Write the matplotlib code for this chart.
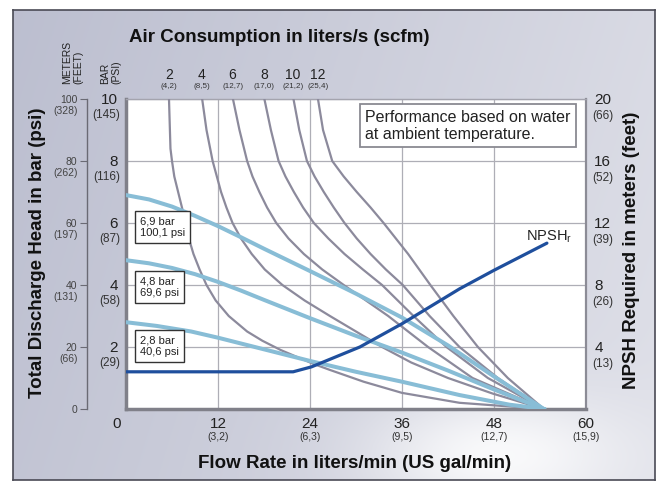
import numpy as np
import matplotlib.pyplot as plt
from matplotlib import transforms

plt.rcParams['font.family'] = ['Liberation Sans', 'DejaVu Sans']

# flow rate in liters/min, head in bar
flow_ticks = [0, 12, 24, 36, 48, 60]
flow_gpm = ["", "(3,2)", "(6,3)", "(9,5)", "(12,7)", "(15,9)"]
bar_ticks = [2, 4, 6, 8, 10]
bar_psi = ["(29)", "(58)", "(87)", "(116)", "(145)"]
meter_ticks = [0, 20, 40, 60, 80, 100]
meter_feet = ["", "(66)", "(131)", "(197)", "(262)", "(328)"]
npsh_ticks = [4, 8, 12, 16, 20]
npsh_feet = ["(13)", "(26)", "(39)", "(52)", "(66)"]

# air consumption curves (liters/s): flow / head points
air_labels = ["2", "4", "6", "8", "10", "12"]
air_scfm = ["(4,2)", "(8,5)", "(12,7)", "(17,0)", "(21,2)", "(25,4)"]
air2_flow = [5.6, 5.8, 6.0, 6.3, 6.8, 7.3, 7.8, 8.2, 8.8, 9.6, 10.5, 11.7, 13.4, 15.8, 17.8,
             20.2, 22.3, 24.5, 26.6, 31.0, 36.0, 43.5, 54.5]
air2_head = [10.06, 8.4, 8.0, 7.5, 7.0, 6.5, 6.0, 5.5, 5.0, 4.5, 4.0, 3.5, 3.0, 2.5, 2.2,
             1.9, 1.68, 1.45, 1.26, 0.88, 0.52, 0.2, 0.0]
air4_flow = [9.9, 10.5, 11.3, 12.4, 13.1, 13.9, 15.0, 16.4, 18.1, 20.4, 23.3, 26.6, 30.0,
             33.4, 37.2, 42.0, 47.8, 54.5]
air4_head = [10.06, 9.0, 8.0, 7.0, 6.5, 6.0, 5.5, 5.0, 4.5, 4.0, 3.5, 3.0, 2.5,
             2.0, 1.5, 1.0, 0.5, 0.0]
air6_flow = [13.9, 14.8, 15.8, 16.5, 17.4, 18.4, 19.6, 21.2, 23.2, 25.6, 28.4, 31.3, 34.2,
             39.4, 45.2, 54.5]
air6_head = [10.06, 9.0, 8.0, 7.5, 7.0, 6.5, 6.0, 5.5, 5.0, 4.5, 4.0, 3.5, 3.0,
             2.0, 1.0, 0.0]
air8_flow = [18.0, 18.9, 19.9, 20.8, 21.9, 23.1, 24.5, 26.4, 28.5, 30.9, 33.4, 37.5, 41.8,
             47.2, 54.5]
air8_head = [10.06, 9.0, 8.0, 7.5, 7.0, 6.5, 6.0, 5.5, 5.0, 4.5, 4.0, 3.0, 2.0,
             1.0, 0.0]
air10_flow = [21.8, 22.6, 23.6, 24.6, 25.8, 27.1, 28.5, 30.1, 31.9, 33.9, 36.1, 39.6, 43.5,
              48.5, 54.5]
air10_head = [10.06, 9.0, 8.0, 7.5, 7.0, 6.5, 6.0, 5.5, 5.0, 4.5, 4.0, 3.0, 2.0,
              1.0, 0.0]
air12_flow = [25.0, 25.7, 26.9, 28.4, 30.1, 31.9, 33.6, 35.2, 36.8, 39.7, 42.7, 45.9, 49.8, 54.5]
air12_head = [10.06, 9.0, 8.0, 7.5, 7.0, 6.5, 6.0, 5.5, 5.0, 4.0, 3.0, 2.0, 1.0, 0.0]

# discharge pressure lines
p_labels = ["6,9 bar\n100,1 psi", "4,8 bar\n69,6 psi", "2,8 bar\n40,6 psi"]
p69_flow = [0, 3, 6, 9, 12, 15, 18, 24, 30, 36, 42, 48, 54.5]
p69_head = [6.9, 6.76, 6.53, 6.23, 5.9, 5.54, 5.17, 4.45, 3.72, 2.95, 2.05, 1.05, 0.0]
p48_flow = [0, 3, 6, 9, 12, 15, 18, 24, 30, 36, 42, 48, 54.5]
p48_head = [4.8, 4.7, 4.55, 4.35, 4.1, 3.82, 3.52, 2.93, 2.36, 1.82, 1.24, 0.63, 0.0]
p28_flow = [0, 4, 8.5, 12, 16, 20, 24, 30, 36, 43.5, 50, 54.5]
p28_head = [2.8, 2.68, 2.5, 2.3, 2.05, 1.8, 1.55, 1.2, 0.88, 0.45, 0.14, 0.0]

# NPSH required, meters
npsh_flow = [0, 21.8, 24.2, 30.5, 36.0, 43.5, 48.0, 54.9]
npsh_m = [2.4, 2.4, 2.72, 4.0, 5.5, 7.75, 8.95, 10.7]

W, H = 659, 488
fig = plt.figure(figsize=(W / 100, H / 100), dpi=100)
fig.patch.set_facecolor('white')

# gray panel behind everything
bg = fig.add_axes([13 / W, 8 / H, 642 / W, 470 / H])
yy, xx = np.mgrid[0:1:240j, 0:1:330j]
dark = np.array([180, 183, 202]) / 255
light = np.array([224, 225, 233]) / 255
t = np.clip(0.18 + 0.65 * xx + 0.15 * yy, 0, 1)
img = dark + (light - dark) * t[..., None]
glow = np.exp(-(((xx - 0.76) / 0.2) ** 2 + ((yy - 0.95) / 0.13) ** 2))
img = img + (1 - img) * 0.85 * glow[..., None]
bg.imshow(img, aspect='auto', extent=[0, 1, 0, 1])
bg.set_xticks([])
bg.set_yticks([])
for s in bg.spines.values():
    s.set_color('#4a4a55')
    s.set_linewidth(1.2)

ax = fig.add_axes([126 / W, 1 - 409 / H, 460 / W, 310 / H])
ax.set_facecolor('white')
ax.set_xlim(0, 60)
ax.set_ylim(0, 10)

ax.set_xticks(flow_ticks)
ax.set_xticklabels([str(v) for v in flow_ticks], fontsize=11, color='#222')
ax.set_yticks(bar_ticks)
ax.set_yticklabels([str(v) for v in bar_ticks], fontsize=11, color='#222')
ax.tick_params(axis='x', length=0, pad=6)
ax.tick_params(axis='y', length=0, pad=6)
ax.grid(True, color='#aeaeb6', lw=0.9)
ax.set_axisbelow(True)
lab0 = ax.get_xticklabels()[0]
lab0.set_transform(lab0.get_transform() + transforms.ScaledTranslation(-9 / 100, 0, fig.dpi_scale_trans))

ax.spines['left'].set_color('#808089')
ax.spines['left'].set_linewidth(2.5)
ax.spines['bottom'].set_color('#808089')
ax.spines['bottom'].set_linewidth(2.5)
ax.spines['right'].set_color('#8c8c96')
ax.spines['right'].set_linewidth(1.6)
ax.spines['top'].set_color('#a4a4ae')
ax.spines['top'].set_linewidth(1.0)

gray = '#8c8a9c'
air_curves = [(air2_flow, air2_head), (air4_flow, air4_head), (air6_flow, air6_head),
              (air8_flow, air8_head), (air10_flow, air10_head), (air12_flow, air12_head)]
for fx, hy in air_curves:
    ax.plot(fx, hy, color=gray, lw=1.6, zorder=3, solid_joinstyle='round')

blue = '#88bdd6'
p_lines = [(p69_flow, p69_head), (p48_flow, p48_head), (p28_flow, p28_head)]
for fx, hy in p_lines:
    ax.plot(fx, hy, color=blue, lw=2.9, zorder=4, solid_joinstyle='round')

# pressure boxes under the start of each line
box_drop = [-32, -27, -24]
for (fx, hy), txt, dy in zip(p_lines, p_labels, box_drop):
    ax.annotate(txt, xy=(0, hy[0]), xytext=(14, dy), textcoords='offset pixels',
                ha='left', va='center', fontsize=8, color='#222', linespacing=1.2,
                bbox=dict(boxstyle='square,pad=0.45', fc='white', ec='#333', lw=1.0),
                zorder=6)

ax.text(31.2, 9.14, "Performance based on water\nat ambient temperature.",
        ha='left', va='center', fontsize=11.5, color='#222', linespacing=1.15, zorder=6,
        bbox=dict(boxstyle='square,pad=0.35', fc='white', ec='#8a8a92', lw=1.3))

# air consumption labels above each curve
for (fx, hy), a, s in zip(air_curves, air_labels, air_scfm):
    ax.annotate(a, xy=(fx[0], 1), xycoords=ax.get_xaxis_transform(), xytext=(0, 24),
                textcoords='offset pixels', ha='center', va='center', fontsize=10, color='#222')
    ax.annotate(s, xy=(fx[0], 1), xycoords=ax.get_xaxis_transform(), xytext=(0, 12),
                textcoords='offset pixels', ha='center', va='center', fontsize=5.8, color='#333')

# secondary labels in parentheses
for v, s in zip(flow_ticks, flow_gpm):
    ax.annotate(s, xy=(v, 0), xycoords=ax.get_xaxis_transform(), xytext=(0, -28),
                textcoords='offset pixels', ha='center', va='center', fontsize=7.5, color='#333')
for v, s in zip(bar_ticks, bar_psi):
    ax.annotate(s, xy=(0, v), xycoords=ax.get_yaxis_transform(), xytext=(-6, -16),
                textcoords='offset pixels', ha='right', va='center', fontsize=8.5, color='#333')

# NPSH axis on the right
ax_r = ax.twinx()
ax_r.set_ylim(0, 20)
ax_r.set_yticks(npsh_ticks)
ax_r.set_yticklabels([str(v) for v in npsh_ticks], fontsize=11, color='#222')
ax_r.tick_params(axis='y', length=0, pad=6)
for s in ax_r.spines.values():
    s.set_visible(False)
ax_r.plot(npsh_flow, npsh_m, color='#1f4f9d', lw=2.3, solid_capstyle='round',
          solid_joinstyle='round', zorder=5)
ax_r.text(52.2, 10.6, "NPSH$_\\mathregular{r}$", fontsize=10.5, color='#222', ha='left', va='bottom')
for v, s in zip(npsh_ticks, npsh_feet):
    ax_r.annotate(s, xy=(1, v), xycoords=ax_r.get_yaxis_transform(), xytext=(6, -17),
                  textcoords='offset pixels', ha='left', va='center', fontsize=8.5, color='#333')

# meters (feet) scale on the far left
ax_m = ax.twinx()
ax_m.set_ylim(0, 100)
ax_m.yaxis.set_ticks_position('left')
for k, s in ax_m.spines.items():
    s.set_visible(k == 'left')
ax_m.spines['left'].set_position(('axes', -39 / 460))
ax_m.spines['left'].set_color('#6a6a74')
ax_m.spines['left'].set_linewidth(1.0)
ax_m.set_yticks(meter_ticks)
ax_m.set_yticklabels([str(v) for v in meter_ticks], fontsize=7.5, color='#444')
ax_m.tick_params(axis='y', direction='out', length=5, color='#6a6a74', pad=2)
for v, s in zip(meter_ticks, meter_feet):
    ax_m.annotate(s, xy=(-39 / 460, v), xycoords=ax_m.get_yaxis_transform(), xytext=(-9, -12),
                  textcoords='offset pixels', ha='right', va='center', fontsize=7.5, color='#444')

# titles
fig.text(129 / W, 1 - 38 / H, "Air Consumption in liters/s (scfm)", fontsize=13.5,
         fontweight='bold', ha='left', va='center', color='#111')
fig.text(355 / W, 1 - 463 / H, "Flow Rate in liters/min (US gal/min)", fontsize=13.5,
         fontweight='bold', ha='center', va='center', color='#111')
fig.text(38 / W, 1 - 253 / H, "Total Discharge Head in bar (psi)", fontsize=13.5,
         fontweight='bold', ha='center', va='center', rotation=90, color='#111')
fig.text(632 / W, 1 - 250 / H, "NPSH Required in meters (feet)", fontsize=13.5,
         fontweight='bold', ha='center', va='center', rotation=90, color='#111')
fig.text(73 / W, 1 - 84 / H, "METERS\n(FEET)", fontsize=7.5, ha='center', va='bottom',
         rotation=90, multialignment='left', linespacing=1.1, color='#222')
fig.text(111 / W, 1 - 84 / H, "BAR\n(PSI)", fontsize=7.5, ha='center', va='bottom',
         rotation=90, multialignment='left', linespacing=1.1, color='#222')

fig.savefig('out.png', dpi=100)
